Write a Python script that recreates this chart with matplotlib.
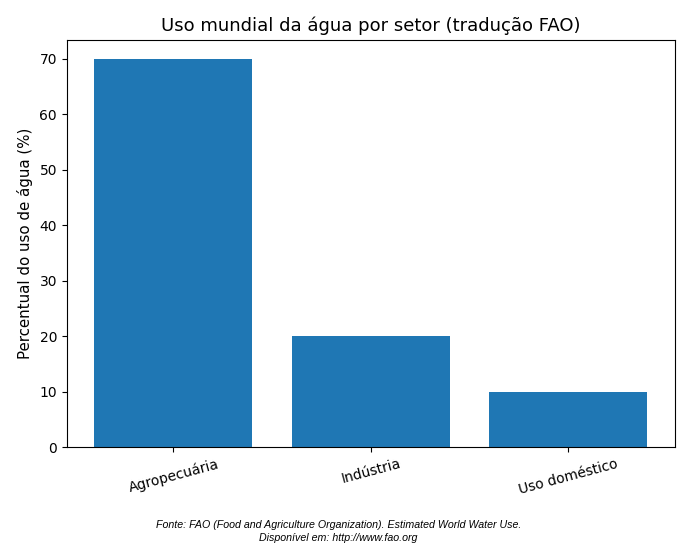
import matplotlib
matplotlib.use("Agg")
import matplotlib.pyplot as plt

setores = ["Agropecuária", "Indústria", "Uso doméstico"]
percentuais = [70, 20, 10]

fig, ax = plt.subplots(figsize=(6.82, 5.52), dpi=100)
ax.bar(setores, percentuais, color="#1f77b4")
ax.set_title("Uso mundial da água por setor (tradução FAO)", fontsize=13)
ax.set_ylabel("Percentual do uso de água (%)", fontsize=10.8, labelpad=5)
plt.xticks(rotation=15)

fig.subplots_adjust(left=0.098, right=0.9897, top=0.9284, bottom=0.1902)

fig.text(0.496, 0.037,
         "Fonte: FAO (Food and Agriculture Organization). Estimated World Water Use.\n"
         "Disponível em: http://www.fao.org",
         ha="center", va="center", fontsize=7.7, style="italic",
         family="Liberation Sans", linespacing=1.45)

fig.savefig("out.png")
